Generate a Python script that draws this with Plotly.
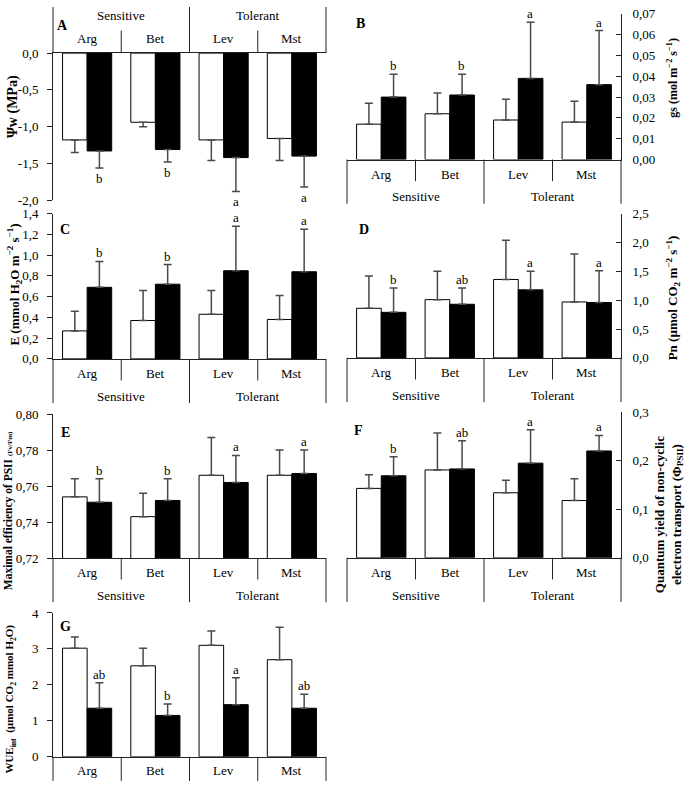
import plotly.graph_objects as go

W, H = 685, 789
FONT = "Liberation Serif"
LINE = "#222222"
ERR = "#4a4a4a"

categories = ["Arg", "Bet", "Lev", "Mst"]
groups = ["Sensitive", "Tolerant"]

# A: leaf water potential (MPa)
psiw_control = [-1.18, -0.94, -1.18, -1.16]
psiw_control_sd = [0.17, 0.06, 0.28, 0.30]
psiw_stress = [-1.33, -1.31, -1.42, -1.40]
psiw_stress_sd = [0.23, 0.17, 0.46, 0.42]
psiw_letters = ["b", "b", "a", "a"]
psiw_ticks = [0, -0.5, -1.0, -1.5, -2.0]
psiw_ticklabels = ["0,0", "-0,5", "-1,0", "-1,5", "-2,0"]

# B: stomatal conductance gs
gs_control = [0.017, 0.022, 0.019, 0.018]
gs_control_sd = [0.010, 0.010, 0.010, 0.010]
gs_stress = [0.030, 0.031, 0.039, 0.036]
gs_stress_sd = [0.011, 0.010, 0.027, 0.026]
gs_letters = ["b", "b", "a", "a"]
gs_ticks = [0, 0.01, 0.02, 0.03, 0.04, 0.05, 0.06, 0.07]
gs_ticklabels = ["0,00", "0,01", "0,02", "0,03", "0,04", "0,05", "0,06", "0,07"]

# C: transpiration E
e_control = [0.27, 0.37, 0.43, 0.38]
e_control_sd = [0.19, 0.29, 0.23, 0.23]
e_stress = [0.69, 0.72, 0.85, 0.84]
e_stress_sd = [0.25, 0.19, 0.43, 0.41]
e_letters = ["b", "b", "a", "a"]
e_ticks = [0, 0.2, 0.4, 0.6, 0.8, 1.0, 1.2, 1.4]
e_ticklabels = ["0,0", "0,2", "0,4", "0,6", "0,8", "1,0", "1,2", "1,4"]

# D: net photosynthesis Pn
pn_control = [0.86, 1.01, 1.36, 0.97]
pn_control_sd = [0.56, 0.49, 0.68, 0.83]
pn_stress = [0.79, 0.93, 1.18, 0.96]
pn_stress_sd = [0.42, 0.28, 0.32, 0.55]
pn_letters = ["b", "ab", "a", "a"]
pn_ticks = [0, 0.5, 1.0, 1.5, 2.0, 2.5]
pn_ticklabels = ["0,0", "0,5", "1,0", "1,5", "2,0", "2,5"]

# E: Fv/Fm
fvfm_control = [0.754, 0.743, 0.766, 0.766]
fvfm_control_sd = [0.010, 0.013, 0.021, 0.014]
fvfm_stress = [0.751, 0.752, 0.762, 0.767]
fvfm_stress_sd = [0.013, 0.012, 0.015, 0.013]
fvfm_letters = ["b", "b", "a", "a"]
fvfm_ticks = [0.72, 0.74, 0.76, 0.78, 0.80]
fvfm_ticklabels = ["0,72", "0,74", "0,76", "0,78", "0,80"]

# F: PhiPSII
phi_control = [0.143, 0.181, 0.134, 0.118]
phi_control_sd = [0.028, 0.076, 0.026, 0.045]
phi_stress = [0.169, 0.183, 0.195, 0.220]
phi_stress_sd = [0.039, 0.058, 0.069, 0.032]
phi_letters = ["b", "ab", "a", "a"]
phi_ticks = [0, 0.1, 0.2, 0.3]
phi_ticklabels = ["0,0", "0,1", "0,2", "0,3"]

# G: WUEint
wue_control = [3.02, 2.53, 3.10, 2.70]
wue_control_sd = [0.31, 0.49, 0.40, 0.90]
wue_stress = [1.35, 1.15, 1.45, 1.35]
wue_stress_sd = [0.71, 0.32, 0.75, 0.39]
wue_letters = ["ab", "b", "a", "ab"]
wue_ticks = [0, 1, 2, 3, 4]
wue_ticklabels = ["0", "1", "2", "3", "4"]

LEFT_X = (53, 326)
RIGHT_X = (347, 621)

panels = [
    dict(key="A", c=psiw_control, csd=psiw_control_sd, s=psiw_stress, ssd=psiw_stress_sd,
         letters=psiw_letters, tv=psiw_ticks, tt=psiw_ticklabels, rng=[-2.0, 0.0],
         xpx=LEFT_X, ypx=(47, 197), side="left", header="top", neg=True,
         title="<b>Ψw (MPa)</b>", tpos=(13, 102), tsize=14, lpos=(63, 19)),
    dict(key="B", c=gs_control, csd=gs_control_sd, s=gs_stress, ssd=gs_stress_sd,
         letters=gs_letters, tv=gs_ticks, tt=gs_ticklabels, rng=[0, 0.07],
         xpx=RIGHT_X, ypx=(7, 155.5), side="right", header="bottom", neg=False,
         title="<b>gs (mol m<sup>−2</sup> s<sup>−1</sup>)</b>", tpos=(673, 72), tsize=12,
         lpos=(361, 17)),
    dict(key="C", c=e_control, csd=e_control_sd, s=e_stress, ssd=e_stress_sd,
         letters=e_letters, tv=e_ticks, tt=e_ticklabels, rng=[0, 1.4],
         xpx=LEFT_X, ypx=(210.7, 358.7), side="left", header="bottom", neg=False,
         title="<b>E (mmol H<sub>2</sub>O m<sup>−2</sup> s<sup>−1</sup>)</b>", tpos=(14, 283),
         tsize=13, lpos=(65, 227)),
    dict(key="D", c=pn_control, csd=pn_control_sd, s=pn_stress, ssd=pn_stress_sd,
         letters=pn_letters, tv=pn_ticks, tt=pn_ticklabels, rng=[0, 2.5],
         xpx=RIGHT_X, ypx=(210.7, 357.7), side="right", header="bottom", neg=False,
         title="<b>Pn (µmol CO<sub>2</sub> m<sup>−2</sup> s<sup>−1</sup>)</b>", tpos=(673, 297),
         tsize=13, lpos=(364, 227)),
    dict(key="E", c=fvfm_control, csd=fvfm_control_sd, s=fvfm_stress, ssd=fvfm_stress_sd,
         letters=fvfm_letters, tv=fvfm_ticks, tt=fvfm_ticklabels, rng=[0.72, 0.80],
         xpx=LEFT_X, ypx=(415, 561.7), side="left", header="bottom", neg=False,
         title="<b>Maximal efficiency of PSII <span style='font-size:7px'>(Fv/Fm)</span></b>",
         tpos=(8, 514), tsize=11.5, lpos=(65, 434)),
    dict(key="F", c=phi_control, csd=phi_control_sd, s=phi_stress, ssd=phi_stress_sd,
         letters=phi_letters, tv=phi_ticks, tt=phi_ticklabels, rng=[0, 0.3],
         xpx=RIGHT_X, ypx=(413, 561.5), side="right", header="bottom", neg=False,
         title="<b>Quantum yield of non-cyclic<br>electron transport (Φ<sub>PSII</sub>)</b>",
         tpos=(669, 518), tsize=13, lpos=(358, 432)),
    dict(key="G", c=wue_control, csd=wue_control_sd, s=wue_stress, ssd=wue_stress_sd,
         letters=wue_letters, tv=wue_ticks, tt=wue_ticklabels, rng=[0, 4],
         xpx=LEFT_X, ypx=(617.7, 764.3), side="left", header="single", neg=False,
         title="<b>WUE<sub>int</sub>  (µmol CO<sub>2</sub> mmol H<sub>2</sub>O)</b>",
         tpos=(10, 706), tsize=11, lpos=(65, 631)),
]


def px(x):
    return x / W


def py(y):
    return 1 - y / H


fig = go.Figure()
layout = dict(
    width=W, height=H, margin=dict(l=0, r=0, t=0, b=0),
    paper_bgcolor="white", plot_bgcolor="white", showlegend=False,
    barmode="group", bargap=0.28, bargroupgap=0,
    font=dict(family=FONT, size=13, color="black"),
)
shapes = []
annotations = []

for i, p in enumerate(panels, start=1):
    xa = "x" if i == 1 else f"x{i}"
    ya = "y" if i == 1 else f"y{i}"
    xname = "xaxis" if i == 1 else f"xaxis{i}"
    yname = "yaxis" if i == 1 else f"yaxis{i}"

    def err(sd, neg):
        if neg:
            return dict(type="data", symmetric=False, array=[0] * len(sd), arrayminus=sd,
                        color=ERR, thickness=1.5, width=4)
        return dict(type="data", symmetric=False, array=sd, arrayminus=[0] * len(sd),
                    color=ERR, thickness=1.5, width=4)

    fig.add_trace(go.Bar(x=categories, y=p["c"], error_y=err(p["csd"], p["neg"]),
                         marker=dict(color="white", line=dict(color="black", width=1)),
                         xaxis=xa, yaxis=ya, offsetgroup="c"))
    fig.add_trace(go.Bar(x=categories, y=p["s"], error_y=err(p["ssd"], p["neg"]),
                         marker=dict(color="black", line=dict(color="black", width=1)),
                         xaxis=xa, yaxis=ya, offsetgroup="s"))

    x0, x1 = p["xpx"]
    ytop, ybot = p["ypx"]
    zero_py = ytop if p["neg"] else ybot

    layout[xname] = dict(
        domain=[px(x0), px(x1)], anchor=ya, type="category", range=[-0.5, 3.5],
        showline=True, linecolor=LINE, linewidth=1, showticklabels=False, ticks="",
        showgrid=False, zeroline=False, fixedrange=True,
        side="top" if p["neg"] else "bottom",
    )
    layout[yname] = dict(
        domain=[py(ybot), py(ytop)], anchor=xa, range=p["rng"],
        tickmode="array", tickvals=p["tv"], ticktext=p["tt"],
        ticks="outside" if p["side"] == "left" else "inside", ticklen=5,
        tickcolor=LINE, showline=True, linecolor=LINE, linewidth=1,
        side=p["side"], showgrid=False, zeroline=False,
        tickfont=dict(family=FONT, size=13, color="black"),
        ticklabelstandoff=6 if p["side"] == "left" else 8,
    )

    xdom = f"{xa} domain"
    if p["header"] == "top":
        full = (zero_py - 47, zero_py)
        inner = (zero_py - 23, zero_py)
        cat_y = zero_py - 15
        grp_y = zero_py - 38
    elif p["header"] == "bottom":
        full = (zero_py, zero_py + 45)
        inner = (zero_py, zero_py + 22)
        cat_y = zero_py + 15
        grp_y = zero_py + 38
    else:
        full = (zero_py, H)
        inner = (zero_py, H)
        cat_y = zero_py + 14
        grp_y = None

    for fx in [0, 0.5, 1]:
        shapes.append(dict(type="line", xref=xdom, yref="paper", x0=fx, x1=fx,
                           y0=py(full[0]), y1=py(full[1]), line=dict(color=LINE, width=1)))
    for fx in [0.25, 0.75]:
        shapes.append(dict(type="line", xref=xdom, yref="paper", x0=fx, x1=fx,
                           y0=py(inner[0]), y1=py(inner[1]), line=dict(color=LINE, width=1)))

    for cat in categories:
        annotations.append(dict(x=cat, y=py(cat_y), xref=xa, yref="paper", text=cat,
                                showarrow=False, xanchor="center", yanchor="middle",
                                font=dict(family=FONT, size=13)))
    if grp_y is not None:
        for gi, g in enumerate(groups):
            annotations.append(dict(x=0.25 + 0.5 * gi, y=py(grp_y), xref=xdom, yref="paper",
                                    text=g, showarrow=False, xanchor="center",
                                    yanchor="middle", font=dict(family=FONT, size=13)))

    for cat, v, sd, let in zip(categories, p["s"], p["ssd"], p["letters"]):
        if p["neg"]:
            annotations.append(dict(x=cat, y=v - sd, xref=xa, yref=ya, text=let,
                                    showarrow=False, xanchor="center", yanchor="top",
                                    xshift=12.2, yshift=-1, font=dict(family=FONT, size=13)))
        else:
            annotations.append(dict(x=cat, y=v + sd, xref=xa, yref=ya, text=let,
                                    showarrow=False, xanchor="center", yanchor="bottom",
                                    xshift=12.2, yshift=-1, font=dict(family=FONT, size=13)))

    annotations.append(dict(x=px(p["lpos"][0]), y=py(p["lpos"][1]), xref="paper", yref="paper",
                            text=f"<b>{p['key']}</b>", showarrow=False, xanchor="center",
                            yanchor="middle", font=dict(family=FONT, size=14)))
    annotations.append(dict(x=px(p["tpos"][0]), y=py(p["tpos"][1]), xref="paper", yref="paper",
                            text=p["title"], showarrow=False, textangle=-90,
                            xanchor="center", yanchor="middle",
                            font=dict(family=FONT, size=p["tsize"])))

layout["shapes"] = shapes
layout["annotations"] = annotations
fig.update_layout(**layout)

post = ("document.documentElement.style.margin='0px';"
        "document.body.style.margin='0px';document.body.style.padding='0px';"
        "document.body.style.overflow='hidden';"
        "var gd=document.getElementById('{plot_id}');"
        "gd.style.position='fixed';gd.style.left='0px';gd.style.top='0px';")
fig.write_html("out.html", config={"displayModeBar": False, "responsive": False},
               post_script=post)
